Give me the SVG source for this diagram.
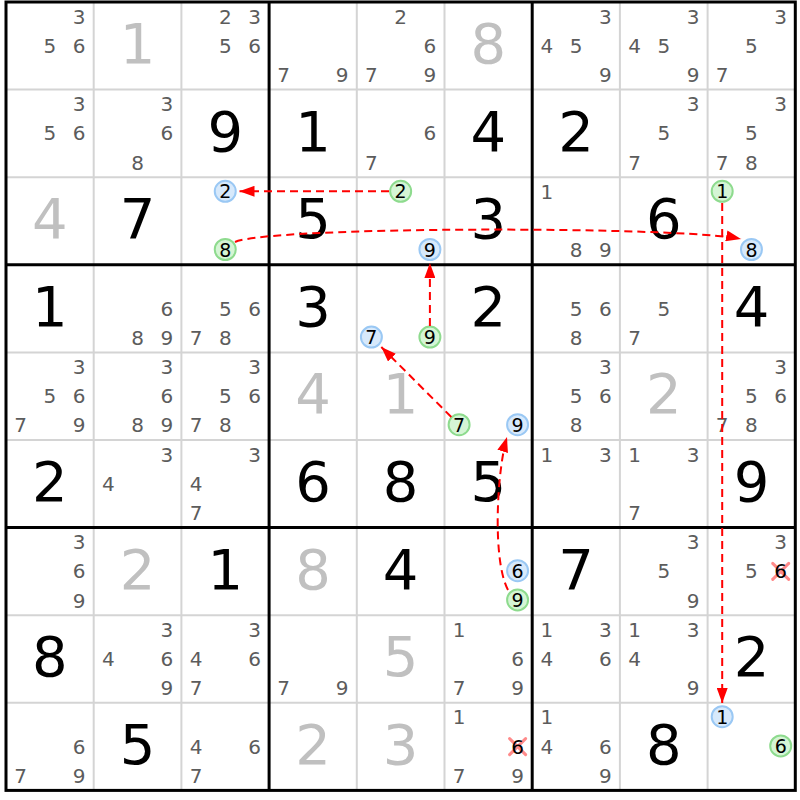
<svg xmlns="http://www.w3.org/2000/svg" width="800" height="800" viewBox="0 0 800 800">
<style>
text{font-family:"DejaVu Sans","Verdana",sans-serif;text-anchor:middle}
.c{font-size:20px;fill:#5c5c5c}
.g{font-size:56px;fill:#000}
.s{font-size:56px;fill:#c0c0c0}
.k{font-size:19px;fill:#000}
.x{font-size:20px;fill:#000}
.thin{stroke:#d4d4d4;stroke-width:2}
.thick{stroke:#000;stroke-width:3}
.cb{fill:#d7e9fb;stroke:#9ac8f4;stroke-width:2}
.cg{fill:#d5f5d5;stroke:#8edb8e;stroke-width:2}
.xm{stroke:#ff8a8a;stroke-width:3;stroke-linecap:round}
.ar{fill:none;stroke:#f00;stroke-width:2;stroke-dasharray:8 5}
</style>
<defs>
<marker id="ah" viewBox="0 0 15 11" refX="15" refY="5.5" markerWidth="15" markerHeight="11" markerUnits="userSpaceOnUse" orient="auto">
<path d="M0,0 L15,5.5 L0,11 z" fill="#f00"/>
</marker>
</defs>
<rect x="0" y="0" width="800" height="800" fill="#fff"/>
<g id="grid">
<g class="thin">
<line x1="93.7" y1="2" x2="93.7" y2="790.4"/><line x1="181.4" y1="2" x2="181.4" y2="790.4"/>
<line x1="356.8" y1="2" x2="356.8" y2="790.4"/><line x1="444.5" y1="2" x2="444.5" y2="790.4"/>
<line x1="619.9" y1="2" x2="619.9" y2="790.4"/><line x1="707.6" y1="2" x2="707.6" y2="790.4"/>
<line x1="6" y1="89.6" x2="795.3" y2="89.6"/><line x1="6" y1="177.2" x2="795.3" y2="177.2"/>
<line x1="6" y1="352.4" x2="795.3" y2="352.4"/><line x1="6" y1="440" x2="795.3" y2="440"/>
<line x1="6" y1="615.2" x2="795.3" y2="615.2"/><line x1="6" y1="702.8" x2="795.3" y2="702.8"/>
</g>
<g class="thick">
<line x1="269.1" y1="2" x2="269.1" y2="790.4"/><line x1="532.2" y1="2" x2="532.2" y2="790.4"/>
<line x1="6" y1="264.8" x2="795.3" y2="264.8"/><line x1="6" y1="527.6" x2="795.3" y2="527.6"/>
<rect x="6" y="2" width="789.3" height="788.4" fill="none"/>
</g>
</g>

<g id="row1">
<g id="r1c1"><text class="c" x="79.1" y="23.6">3</text><text class="c" x="49.85" y="52.8">5</text><text class="c" x="79.1" y="52.8">6</text></g>
<g id="r1c2"><text class="s" x="137.55" y="63">1</text></g>
<g id="r1c3"><text class="c" x="225.25" y="23.6">2</text><text class="c" x="254.5" y="23.6">3</text><text class="c" x="225.25" y="52.8">5</text><text class="c" x="254.5" y="52.8">6</text></g>
<g id="r1c4"><text class="c" x="283.7" y="82">7</text><text class="c" x="342.2" y="82">9</text></g>
<g id="r1c5"><text class="c" x="400.65" y="23.6">2</text><text class="c" x="429.9" y="52.8">6</text><text class="c" x="371.4" y="82">7</text><text class="c" x="429.9" y="82">9</text></g>
<g id="r1c6"><text class="s" x="488.35" y="63">8</text></g>
<g id="r1c7"><text class="c" x="605.3" y="23.6">3</text><text class="c" x="546.8" y="52.8">4</text><text class="c" x="576.05" y="52.8">5</text><text class="c" x="605.3" y="82">9</text></g>
<g id="r1c8"><text class="c" x="693" y="23.6">3</text><text class="c" x="634.5" y="52.8">4</text><text class="c" x="663.75" y="52.8">5</text><text class="c" x="693" y="82">9</text></g>
<g id="r1c9"><text class="c" x="780.7" y="23.6">3</text><text class="c" x="751.45" y="52.8">5</text><text class="c" x="722.2" y="82">7</text></g>
</g>

<g id="row2">
<g id="r2c1"><text class="c" x="79.1" y="111.2">3</text><text class="c" x="49.85" y="140.4">5</text><text class="c" x="79.1" y="140.4">6</text></g>
<g id="r2c2"><text class="c" x="166.8" y="111.2">3</text><text class="c" x="166.8" y="140.4">6</text><text class="c" x="137.55" y="169.6">8</text></g>
<g id="r2c3"><text class="g" x="225.25" y="150.6">9</text></g>
<g id="r2c4"><text class="g" x="312.95" y="150.6">1</text></g>
<g id="r2c5"><text class="c" x="429.9" y="140.4">6</text><text class="c" x="371.4" y="169.6">7</text></g>
<g id="r2c6"><text class="g" x="488.35" y="150.6">4</text></g>
<g id="r2c7"><text class="g" x="576.05" y="150.6">2</text></g>
<g id="r2c8"><text class="c" x="693" y="111.2">3</text><text class="c" x="663.75" y="140.4">5</text><text class="c" x="634.5" y="169.6">7</text></g>
<g id="r2c9"><text class="c" x="780.7" y="111.2">3</text><text class="c" x="751.45" y="140.4">5</text><text class="c" x="722.2" y="169.6">7</text><text class="c" x="751.45" y="169.6">8</text></g>
</g>

<g id="row3">
<g id="r3c1"><text class="s" x="49.85" y="238.2">4</text></g>
<g id="r3c2"><text class="g" x="137.55" y="238.2">7</text></g>
<g id="r3c3"><circle class="cb" cx="225.25" cy="191.3" r="10.5"/><text class="k" x="225.25" y="198.3">2</text><circle class="cg" cx="225.25" cy="249.5" r="10.5"/><text class="k" x="225.25" y="256.5">8</text></g>
<g id="r3c4"><text class="g" x="312.95" y="238.2">5</text></g>
<g id="r3c5"><circle class="cg" cx="400.65" cy="191.3" r="10.5"/><text class="k" x="400.65" y="198.3">2</text><circle class="cb" cx="429.9" cy="249.5" r="10.5"/><text class="k" x="429.9" y="256.5">9</text></g>
<g id="r3c6"><text class="g" x="488.35" y="238.2">3</text></g>
<g id="r3c7"><text class="c" x="546.8" y="198.8">1</text><text class="c" x="576.05" y="257.2">8</text><text class="c" x="605.3" y="257.2">9</text></g>
<g id="r3c8"><text class="g" x="663.75" y="238.2">6</text></g>
<g id="r3c9"><circle class="cg" cx="722.2" cy="191.3" r="10.5"/><text class="k" x="722.2" y="198.3">1</text><circle class="cb" cx="751.45" cy="249.5" r="10.5"/><text class="k" x="751.45" y="256.5">8</text></g>
</g>

<g id="row4">
<g id="r4c1"><text class="g" x="49.85" y="325.8">1</text></g>
<g id="r4c2"><text class="c" x="166.8" y="315.6">6</text><text class="c" x="137.55" y="344.8">8</text><text class="c" x="166.8" y="344.8">9</text></g>
<g id="r4c3"><text class="c" x="225.25" y="315.6">5</text><text class="c" x="254.5" y="315.6">6</text><text class="c" x="196" y="344.8">7</text><text class="c" x="225.25" y="344.8">8</text></g>
<g id="r4c4"><text class="g" x="312.95" y="325.8">3</text></g>
<g id="r4c5"><circle class="cb" cx="371.4" cy="337.1" r="10.5"/><text class="k" x="371.4" y="344.1">7</text><circle class="cg" cx="429.9" cy="337.1" r="10.5"/><text class="k" x="429.9" y="344.1">9</text></g>
<g id="r4c6"><text class="g" x="488.35" y="325.8">2</text></g>
<g id="r4c7"><text class="c" x="576.05" y="315.6">5</text><text class="c" x="605.3" y="315.6">6</text><text class="c" x="576.05" y="344.8">8</text></g>
<g id="r4c8"><text class="c" x="663.75" y="315.6">5</text><text class="c" x="634.5" y="344.8">7</text></g>
<g id="r4c9"><text class="g" x="751.45" y="325.8">4</text></g>
</g>

<g id="row5">
<g id="r5c1"><text class="c" x="79.1" y="374">3</text><text class="c" x="49.85" y="403.2">5</text><text class="c" x="79.1" y="403.2">6</text><text class="c" x="20.6" y="432.4">7</text><text class="c" x="79.1" y="432.4">9</text></g>
<g id="r5c2"><text class="c" x="166.8" y="374">3</text><text class="c" x="166.8" y="403.2">6</text><text class="c" x="137.55" y="432.4">8</text><text class="c" x="166.8" y="432.4">9</text></g>
<g id="r5c3"><text class="c" x="254.5" y="374">3</text><text class="c" x="225.25" y="403.2">5</text><text class="c" x="254.5" y="403.2">6</text><text class="c" x="196" y="432.4">7</text><text class="c" x="225.25" y="432.4">8</text></g>
<g id="r5c4"><text class="s" x="312.95" y="413.4">4</text></g>
<g id="r5c5"><text class="s" x="400.65" y="413.4">1</text></g>
<g id="r5c6"><circle class="cg" cx="459.1" cy="424.7" r="10.5"/><text class="k" x="459.1" y="431.7">7</text><circle class="cb" cx="517.6" cy="424.7" r="10.5"/><text class="k" x="517.6" y="431.7">9</text></g>
<g id="r5c7"><text class="c" x="605.3" y="374">3</text><text class="c" x="576.05" y="403.2">5</text><text class="c" x="605.3" y="403.2">6</text><text class="c" x="576.05" y="432.4">8</text></g>
<g id="r5c8"><text class="s" x="663.75" y="413.4">2</text></g>
<g id="r5c9"><text class="c" x="780.7" y="374">3</text><text class="c" x="751.45" y="403.2">5</text><text class="c" x="780.7" y="403.2">6</text><text class="c" x="722.2" y="432.4">7</text><text class="c" x="751.45" y="432.4">8</text></g>
</g>

<g id="row6">
<g id="r6c1"><text class="g" x="49.85" y="501">2</text></g>
<g id="r6c2"><text class="c" x="166.8" y="461.6">3</text><text class="c" x="108.3" y="490.8">4</text></g>
<g id="r6c3"><text class="c" x="254.5" y="461.6">3</text><text class="c" x="196" y="490.8">4</text><text class="c" x="196" y="520">7</text></g>
<g id="r6c4"><text class="g" x="312.95" y="501">6</text></g>
<g id="r6c5"><text class="g" x="400.65" y="501">8</text></g>
<g id="r6c6"><text class="g" x="488.35" y="501">5</text></g>
<g id="r6c7"><text class="c" x="546.8" y="461.6">1</text><text class="c" x="605.3" y="461.6">3</text></g>
<g id="r6c8"><text class="c" x="634.5" y="461.6">1</text><text class="c" x="693" y="461.6">3</text><text class="c" x="634.5" y="520">7</text></g>
<g id="r6c9"><text class="g" x="751.45" y="501">9</text></g>
</g>

<g id="row7">
<g id="r7c1"><text class="c" x="79.1" y="549.2">3</text><text class="c" x="79.1" y="578.4">6</text><text class="c" x="79.1" y="607.6">9</text></g>
<g id="r7c2"><text class="s" x="137.55" y="588.6">2</text></g>
<g id="r7c3"><text class="g" x="225.25" y="588.6">1</text></g>
<g id="r7c4"><text class="s" x="312.95" y="588.6">8</text></g>
<g id="r7c5"><text class="g" x="400.65" y="588.6">4</text></g>
<g id="r7c6"><circle class="cb" cx="517.6" cy="570.7" r="10.5"/><text class="k" x="517.6" y="577.7">6</text><circle class="cg" cx="517.6" cy="599.9" r="10.5"/><text class="k" x="517.6" y="606.9">9</text></g>
<g id="r7c7"><text class="g" x="576.05" y="588.6">7</text></g>
<g id="r7c8"><text class="c" x="693" y="549.2">3</text><text class="c" x="663.75" y="578.4">5</text><text class="c" x="693" y="607.6">9</text></g>
<g id="r7c9"><text class="c" x="780.7" y="549.2">3</text><text class="c" x="751.45" y="578.4">5</text><line class="xm" x1="772.7" y1="563.4" x2="788.7" y2="579.4"/><line class="xm" x1="788.7" y1="563.4" x2="772.7" y2="579.4"/><text class="x" x="780.7" y="578.4">6</text></g>
</g>

<g id="row8">
<g id="r8c1"><text class="g" x="49.85" y="676.2">8</text></g>
<g id="r8c2"><text class="c" x="166.8" y="636.8">3</text><text class="c" x="108.3" y="666">4</text><text class="c" x="166.8" y="666">6</text><text class="c" x="166.8" y="695.2">9</text></g>
<g id="r8c3"><text class="c" x="254.5" y="636.8">3</text><text class="c" x="196" y="666">4</text><text class="c" x="254.5" y="666">6</text><text class="c" x="196" y="695.2">7</text></g>
<g id="r8c4"><text class="c" x="283.7" y="695.2">7</text><text class="c" x="342.2" y="695.2">9</text></g>
<g id="r8c5"><text class="s" x="400.65" y="676.2">5</text></g>
<g id="r8c6"><text class="c" x="459.1" y="636.8">1</text><text class="c" x="517.6" y="666">6</text><text class="c" x="459.1" y="695.2">7</text><text class="c" x="517.6" y="695.2">9</text></g>
<g id="r8c7"><text class="c" x="546.8" y="636.8">1</text><text class="c" x="605.3" y="636.8">3</text><text class="c" x="546.8" y="666">4</text><text class="c" x="605.3" y="666">6</text></g>
<g id="r8c8"><text class="c" x="634.5" y="636.8">1</text><text class="c" x="693" y="636.8">3</text><text class="c" x="634.5" y="666">4</text><text class="c" x="693" y="695.2">9</text></g>
<g id="r8c9"><text class="g" x="751.45" y="676.2">2</text></g>
</g>

<g id="row9">
<g id="r9c1"><text class="c" x="79.1" y="753.6">6</text><text class="c" x="20.6" y="782.8">7</text><text class="c" x="79.1" y="782.8">9</text></g>
<g id="r9c2"><text class="g" x="137.55" y="763.8">5</text></g>
<g id="r9c3"><text class="c" x="196" y="753.6">4</text><text class="c" x="254.5" y="753.6">6</text><text class="c" x="196" y="782.8">7</text></g>
<g id="r9c4"><text class="s" x="312.95" y="763.8">2</text></g>
<g id="r9c5"><text class="s" x="400.65" y="763.8">3</text></g>
<g id="r9c6"><text class="c" x="459.1" y="724.4">1</text><line class="xm" x1="509.6" y1="738.6" x2="525.6" y2="754.6"/><line class="xm" x1="525.6" y1="738.6" x2="509.6" y2="754.6"/><text class="x" x="517.6" y="753.6">6</text><text class="c" x="459.1" y="782.8">7</text><text class="c" x="517.6" y="782.8">9</text></g>
<g id="r9c7"><text class="c" x="546.8" y="724.4">1</text><text class="c" x="546.8" y="753.6">4</text><text class="c" x="605.3" y="753.6">6</text><text class="c" x="605.3" y="782.8">9</text></g>
<g id="r9c8"><text class="g" x="663.75" y="763.8">8</text></g>
<g id="r9c9"><circle class="cb" cx="722.2" cy="716.7" r="10.5"/><text class="k" x="722.2" y="723.7">1</text><circle class="cg" cx="780.7" cy="745.9" r="10.5"/><text class="k" x="780.7" y="752.9">6</text></g>
</g>

<g id="connectors">
<path class="ar" marker-end="url(#ah)" d="M389,191.3 L239.5,191.3"/>
<path class="ar" marker-end="url(#ah)" d="M235,242 C270,226 680,226 741,239"/>
<path class="ar" marker-end="url(#ah)" d="M429.9,326 L429.9,263"/>
<path class="ar" marker-end="url(#ah)" d="M451.3,417 L381.3,347"/>
<path class="ar" marker-end="url(#ah)" d="M508,590 C492,560 497,470 507,437"/>
<path class="ar" marker-end="url(#ah)" d="M722.2,203 L722.2,703"/>
</g>
</svg>
